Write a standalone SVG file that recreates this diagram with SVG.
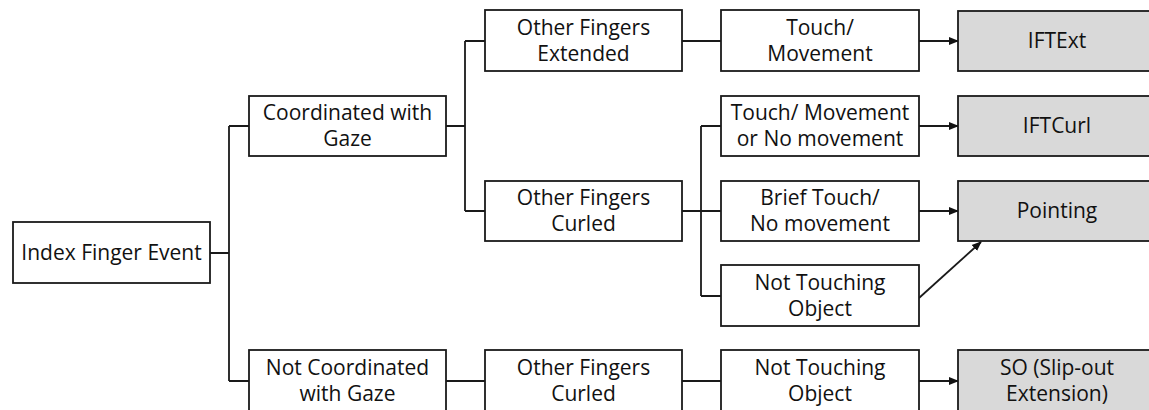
<svg xmlns="http://www.w3.org/2000/svg" width="1149" height="410" viewBox="0 0 1149 410">
<defs>
<style>
.b{fill:#fff;stroke:#1a1a1a;stroke-width:1.8}
.g{fill:#d9d9d9;stroke:#1a1a1a;stroke-width:1.8}
.t{font-family:"Open Sans","Noto Sans",sans-serif;font-size:21px;fill:#111;text-anchor:middle}
.c{fill:none;stroke:#1a1a1a;stroke-width:1.8}
</style>
<marker id="ah" markerWidth="10" markerHeight="10" refX="9" refY="5" orient="auto" markerUnits="userSpaceOnUse">
<path d="M0,1 L10,5 L0,9 Z" fill="#111"/>
</marker>
</defs>
<rect width="1149" height="410" fill="#fff"/>
<g id="connectors">
<path class="c" d="M210,253 H229 M229,126 V381 M229,126 H249 M229,381 H249"/>
<path class="c" d="M446,126 H465 M465,41 V211 M465,41 H485 M465,211 H485"/>
<path class="c" d="M682,41 H721"/>
<path class="c" d="M682,211 H721 M701,126 V296 M701,126 H721 M701,296 H721"/>
<path class="c" d="M446,381 H485 M682,381 H721"/>
<path class="c" d="M919,41 H958" marker-end="url(#ah)"/>
<path class="c" d="M919,126 H958" marker-end="url(#ah)"/>
<path class="c" d="M919,211 H958" marker-end="url(#ah)"/>
<path class="c" d="M919,381 H958" marker-end="url(#ah)"/>
<path class="c" d="M919,298 L981,242" marker-end="url(#ah)"/>
</g>
<g id="n-index"><rect class="b" x="13" y="222" width="197" height="61"/><text class="t" x="111.5" y="260">Index Finger Event</text></g>
<g id="n-coord"><rect class="b" x="249" y="96" width="197" height="60"/><text class="t" x="347.5" y="120">Coordinated with</text><text class="t" x="347.5" y="146">Gaze</text></g>
<g id="n-notcoord"><rect class="b" x="249" y="350" width="197" height="62"/><text class="t" x="347.5" y="375">Not Coordinated</text><text class="t" x="347.5" y="401">with Gaze</text></g>
<g id="n-ext"><rect class="b" x="485" y="10" width="197" height="61"/><text class="t" x="583.5" y="35">Other Fingers</text><text class="t" x="583.5" y="61">Extended</text></g>
<g id="n-curl1"><rect class="b" x="485" y="181" width="197" height="60"/><text class="t" x="583.5" y="205">Other Fingers</text><text class="t" x="583.5" y="231">Curled</text></g>
<g id="n-curl2"><rect class="b" x="485" y="350" width="197" height="62"/><text class="t" x="583.5" y="375">Other Fingers</text><text class="t" x="583.5" y="401">Curled</text></g>
<g id="n-tm"><rect class="b" x="721" y="10" width="198" height="61"/><text class="t" x="820" y="35">Touch/</text><text class="t" x="820" y="61">Movement</text></g>
<g id="n-tmn"><rect class="b" x="721" y="96" width="198" height="60"/><text class="t" x="820" y="120">Touch/ Movement</text><text class="t" x="820" y="146">or No movement</text></g>
<g id="n-brief"><rect class="b" x="721" y="181" width="198" height="60"/><text class="t" x="820" y="205">Brief Touch/</text><text class="t" x="820" y="231">No movement</text></g>
<g id="n-ntc"><rect class="b" x="721" y="265" width="198" height="61"/><text class="t" x="820" y="290">Not Touching</text><text class="t" x="820" y="316">Object</text></g>
<g id="n-ntc2"><rect class="b" x="721" y="350" width="198" height="62"/><text class="t" x="820" y="375">Not Touching</text><text class="t" x="820" y="401">Object</text></g>
<g id="n-iftext"><rect class="g" x="958" y="11" width="200" height="60"/><text class="t" x="1057" y="48">IFTExt</text></g>
<g id="n-iftcurl"><rect class="g" x="958" y="96" width="200" height="60"/><text class="t" x="1057" y="133">IFTCurl</text></g>
<g id="n-point"><rect class="g" x="958" y="181" width="200" height="60"/><text class="t" x="1057" y="218">Pointing</text></g>
<g id="n-so"><rect class="g" x="958" y="350" width="200" height="62"/><text class="t" x="1057" y="375">SO (Slip-out</text><text class="t" x="1057" y="401">Extension)</text></g>
</svg>
